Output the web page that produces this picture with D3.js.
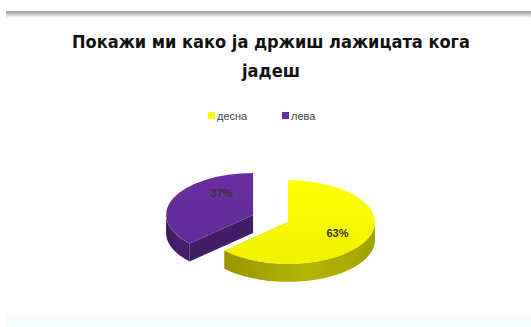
<!DOCTYPE html>
<html>
<head>
<meta charset="utf-8">
<script src="https://cdn.jsdelivr.net/npm/d3@7"></script>
<style>
  body { margin: 0; background: #fff; }
  text { font-family: "Liberation Sans", Arial, sans-serif; }
</style>
</head>
<body>
<div id="chart"></div>
<script>
var titleLines = ["Покажи ми како ја држиш лажицата кога", "јадеш"];
var categories = ["десна", "лева"];
var values = [63, 37];
var colors = ["#ffff00", "#6a2da0"];
var sideColors = ["#b4b400", "#47206e"];

var width = 531, height = 327;
var rx = 87, tilt = 0.48, depth = 18, explode = 19;
var cx = 270.5, cy = 218.5;
var labelNudge = [[0, 1], [18, -12]];

var svg = d3.select("#chart").append("svg")
    .attr("width", width)
    .attr("height", height);

// frame: grey line on top, pale strip at bottom
var defs = svg.append("defs");
var topG = defs.append("linearGradient").attr("id", "topg").attr("x1", 0).attr("y1", 0).attr("x2", 0).attr("y2", 1);
topG.append("stop").attr("offset", 0).attr("stop-color", "#9a9a9a");
topG.append("stop").attr("offset", 1).attr("stop-color", "#ffffff");
svg.append("rect").attr("x", 6).attr("y", 11).attr("width", width - 6).attr("height", 7).attr("fill", "url(#topg)");
svg.append("rect").attr("x", 6).attr("y", 315).attr("width", width - 6).attr("height", 12).attr("fill", "#f5fcfd");

// title
var titleLen = [398, 58];
svg.append("g").selectAll("text")
    .data(titleLines)
  .enter().append("text")
    .attr("x", 271)
    .attr("y", function(d, i) { return 48 + i * 29; })
    .attr("text-anchor", "middle")
    .attr("textLength", function(d, i) { return titleLen[i]; })
    .attr("lengthAdjust", "spacingAndGlyphs")
    .style("font-family", "'DejaVu Sans', Verdana, sans-serif")
    .style("font-size", "18px")
    .style("font-weight", "bold")
    .style("fill", "#111")
    .text(function(d) { return d; });

// legend
var legendX = [208, 282];
var legend = svg.append("g").selectAll("g")
    .data(categories)
  .enter().append("g")
    .attr("transform", function(d, i) { return "translate(" + legendX[i] + ",116)"; });
legend.append("rect")
    .attr("x", 0).attr("y", -4)
    .attr("width", 7).attr("height", 7)
    .attr("fill", function(d, i) { return colors[i]; });
legend.append("text")
    .attr("x", 9).attr("y", 4)
    .style("font-size", "11px")
    .style("fill", "#444")
    .text(function(d) { return d; });

// 3d pie
var pie = d3.pie().sort(null).value(function(d) { return d; });
var arcs = pie(values);
var total = d3.sum(values);

function pt(a, r) { return [r * Math.sin(a), -r * Math.cos(a) * tilt]; }

function wallPath(a0, a1) {
  // outer wall, front half only (pi/2 .. 3pi/2)
  var s = Math.max(a0, Math.PI / 2), e = Math.min(a1, 3 * Math.PI / 2);
  if (e <= s) return null;
  var n = 40, top = [], i;
  for (i = 0; i <= n; i++) top.push(pt(s + (e - s) * i / n, rx));
  var bot = top.slice().reverse().map(function(p) { return [p[0], p[1] + depth]; });
  return d3.line()(top.concat(bot)) + "Z";
}

function cutPath(a) {
  var p = pt(a, rx);
  return d3.line()([[0, 0], p, [p[0], p[1] + depth], [0, depth]]) + "Z";
}

arcs.forEach(function(d, i) {
  var g = defs.append("linearGradient").attr("id", "wall" + i).attr("x1", 0).attr("y1", 0).attr("x2", 1).attr("y2", 0);
  g.append("stop").attr("offset", 0).attr("stop-color", d3.color(sideColors[i]).darker(0.5));
  g.append("stop").attr("offset", 0.55).attr("stop-color", sideColors[i]);
  g.append("stop").attr("offset", 1).attr("stop-color", d3.color(sideColors[i]).darker(0.3));
  var t = defs.append("linearGradient").attr("id", "top" + i).attr("x1", 0).attr("y1", 0).attr("x2", 0).attr("y2", 1);
  t.append("stop").attr("offset", 0).attr("stop-color", colors[i]);
  t.append("stop").attr("offset", 1).attr("stop-color", d3.color(colors[i]).darker(0.15));
});

var arcTop = d3.arc().innerRadius(0).outerRadius(rx);

// draw purple (back) first, then yellow
var order = [1, 0];
order.forEach(function(i) {
  var d = arcs[i];
  var mid = (d.startAngle + d.endAngle) / 2;
  var off = pt(mid, explode);
  var g = svg.append("g")
      .attr("transform", "translate(" + (cx + off[0]) + "," + (cy + off[1]) + ")");

  [d.startAngle, d.endAngle].forEach(function(a) {
    if (Math.abs(Math.sin(a)) < 0.01) return;
    g.append("path")
        .attr("d", cutPath(a))
        .attr("fill", d3.color(sideColors[i]).darker(0.2));
  });

  var w = wallPath(d.startAngle, d.endAngle);
  if (w) g.append("path").attr("d", w).attr("fill", "url(#wall" + i + ")");

  g.append("path")
      .attr("transform", "scale(1," + tilt + ")")
      .attr("d", arcTop(d))
      .attr("fill", "url(#top" + i + ")");

  var lp = pt(mid, rx * 0.62);
  g.append("text")
      .attr("x", lp[0] + labelNudge[i][0])
      .attr("y", lp[1] + 4 + labelNudge[i][1])
      .attr("text-anchor", "middle")
      .style("font-size", "11px")
      .style("font-weight", "bold")
      .style("fill", "#333")
      .text(Math.round(d.value / total * 100) + "%");
});
</script>
</body>
</html>
